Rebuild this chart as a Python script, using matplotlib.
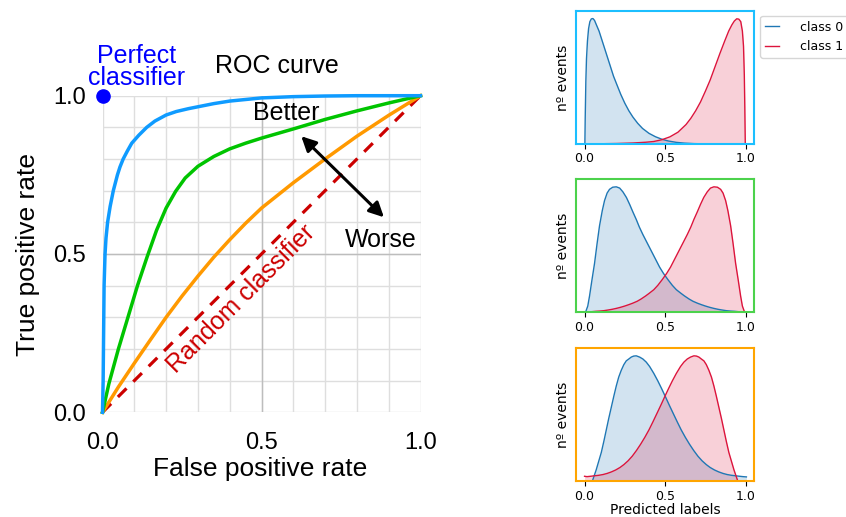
import numpy as np
import matplotlib.pyplot as plt
from matplotlib.lines import Line2D

# ROC curves (false positive rate, true positive rate)
blue_fpr = [0, 0.002, 0.003, 0.004, 0.005, 0.008, 0.011, 0.016, 0.024, 0.034, 0.047, 0.055, 0.065,
            0.078, 0.092, 0.114, 0.139, 0.165, 0.2, 0.232, 0.27, 0.3, 0.35, 0.4, 0.5, 0.6, 0.7, 0.8, 0.9, 1.0]
blue_tpr = [0, 0.1, 0.2, 0.3, 0.4, 0.5, 0.55, 0.6, 0.65, 0.7, 0.75, 0.775, 0.8,
            0.825, 0.85, 0.875, 0.9, 0.92, 0.939, 0.95, 0.959, 0.965, 0.975, 0.983, 0.993, 0.997, 0.999, 1.0, 1.0, 1.0]

green_fpr = [0, 0.02, 0.05, 0.08, 0.11, 0.14, 0.17, 0.2, 0.23, 0.26, 0.3, 0.35, 0.4, 0.45, 0.5, 0.6, 0.7, 0.8, 0.9, 1.0]
green_tpr = [0, 0.09, 0.2, 0.3, 0.4, 0.49, 0.575, 0.645, 0.698, 0.74, 0.777, 0.808, 0.832, 0.85, 0.866, 0.895, 0.925, 0.952, 0.977, 1.0]

orange_fpr = [0, 0.05, 0.1, 0.15, 0.2, 0.25, 0.3, 0.35, 0.4, 0.45, 0.5, 0.6, 0.7, 0.8, 0.9, 1.0]
orange_tpr = [0, 0.08, 0.155, 0.228, 0.3, 0.367, 0.43, 0.49, 0.545, 0.597, 0.645, 0.725, 0.8, 0.872, 0.938, 1.0]

random_fpr = [0, 1]
random_tpr = [0, 1]

ticks = [0.0, 0.5, 1.0]
tick_labels = ["0.0", "0.5", "1.0"]

# predicted label distributions, one pair per classifier
p1_x0 = [0.002, 0.004, 0.008, 0.012, 0.018, 0.025, 0.033, 0.042, 0.052, 0.062, 0.075, 0.09, 0.105, 0.12,
         0.14, 0.16, 0.18, 0.2, 0.225, 0.25, 0.275, 0.3, 0.33, 0.36, 0.4, 0.44, 0.48, 0.52, 0.57, 0.62,
         0.68, 0.75, 0.85, 1.0]
p1_y0 = [0, 0.2, 0.5, 0.68, 0.82, 0.92, 0.975, 0.997, 1.0, 0.985, 0.945, 0.9, 0.84, 0.78,
         0.70, 0.62, 0.54, 0.475, 0.395, 0.325, 0.265, 0.215, 0.165, 0.124, 0.085, 0.058, 0.038, 0.024, 0.013, 0.007,
         0.003, 0.001, 0, 0]
p1_x1 = [0, 0.2, 0.3, 0.38, 0.43, 0.48, 0.53, 0.58, 0.63, 0.66, 0.69, 0.72, 0.75, 0.78, 0.81, 0.84,
         0.87, 0.895, 0.915, 0.93, 0.945, 0.958, 0.97, 0.98, 0.987, 0.992, 0.995, 0.998]
p1_y1 = [0, 0.004, 0.008, 0.014, 0.02, 0.034, 0.057, 0.094, 0.155, 0.205, 0.265, 0.335, 0.42, 0.51, 0.615, 0.72,
         0.82, 0.9, 0.95, 0.98, 0.998, 0.995, 0.975, 0.9, 0.78, 0.55, 0.3, 0]

p2_x0 = [0.006, 0.02, 0.031, 0.045, 0.062, 0.078, 0.093, 0.11, 0.124, 0.14, 0.155, 0.175, 0.197, 0.218,
         0.238, 0.26, 0.28, 0.30, 0.321, 0.34, 0.362, 0.39, 0.414, 0.44, 0.466, 0.49, 0.518, 0.545, 0.57,
         0.6, 0.621, 0.65, 0.673, 0.7, 0.725, 0.75, 0.776, 0.8, 0.828, 0.855, 0.88, 0.905, 0.93, 0.955,
         0.983, 1.0]
p2_y0 = [0, 0.05, 0.13, 0.25, 0.39, 0.55, 0.69, 0.81, 0.89, 0.95, 0.98, 0.997, 1.0, 0.99,
         0.96, 0.915, 0.86, 0.80, 0.74, 0.68, 0.62, 0.55, 0.49, 0.425, 0.36, 0.31, 0.26, 0.215, 0.18,
         0.15, 0.13, 0.105, 0.088, 0.073, 0.061, 0.05, 0.04, 0.032, 0.024, 0.018, 0.013, 0.01, 0.008, 0.005,
         0.003, 0]
p2_x1 = [0, 0.017, 0.045, 0.07, 0.095, 0.12, 0.145, 0.172, 0.2, 0.224, 0.25, 0.275, 0.3, 0.327,
         0.35, 0.379, 0.4, 0.43, 0.455, 0.482, 0.51, 0.534, 0.56, 0.586, 0.61, 0.638, 0.66, 0.679, 0.7,
         0.72, 0.74, 0.762, 0.782, 0.803, 0.825, 0.845, 0.86, 0.876, 0.89, 0.907, 0.922, 0.938, 0.955, 0.969,
         0.98, 0.994]
p2_y1 = [0.004, 0.004, 0.005, 0.008, 0.01, 0.013, 0.018, 0.024, 0.032, 0.04, 0.05, 0.061, 0.073, 0.088,
         0.105, 0.13, 0.15, 0.18, 0.215, 0.26, 0.31, 0.36, 0.425, 0.49, 0.55, 0.62, 0.68, 0.74, 0.80,
         0.86, 0.915, 0.96, 0.99, 1.0, 0.997, 0.98, 0.95, 0.89, 0.81, 0.69, 0.55, 0.39, 0.25, 0.13,
         0.05, 0]

p3_x0 = [0.048, 0.06, 0.072, 0.088, 0.104, 0.12, 0.135, 0.15, 0.166, 0.182, 0.197, 0.212, 0.228, 0.244,
         0.259, 0.275, 0.29, 0.305, 0.321, 0.342, 0.362, 0.383, 0.404, 0.43, 0.455, 0.478, 0.5, 0.525,
         0.549, 0.575, 0.6, 0.626, 0.652, 0.678, 0.704, 0.73, 0.756, 0.78, 0.807, 0.833, 0.859, 0.885,
         0.911, 0.937, 0.963, 0.985, 1.005]
p3_y0 = [0, 0.045, 0.09, 0.16, 0.23, 0.32, 0.41, 0.5, 0.59, 0.68, 0.76, 0.83, 0.885, 0.93,
         0.96, 0.975, 0.99, 0.998, 1.0, 0.99, 0.975, 0.95, 0.915, 0.86, 0.8, 0.74, 0.68, 0.61,
         0.545, 0.475, 0.41, 0.35, 0.295, 0.245, 0.2, 0.163, 0.133, 0.11, 0.09, 0.075, 0.063, 0.054,
         0.048, 0.044, 0.04, 0.037, 0.035]
p3_x1 = [0.0, 0.015, 0.037, 0.063, 0.089, 0.115, 0.141, 0.167, 0.193, 0.22, 0.244, 0.27, 0.296, 0.322,
         0.348, 0.374, 0.4, 0.425, 0.451, 0.475, 0.5, 0.522, 0.545, 0.57, 0.596, 0.617, 0.638, 0.658,
         0.679, 0.695, 0.71, 0.725, 0.741, 0.756, 0.772, 0.788, 0.803, 0.818, 0.834, 0.85, 0.865, 0.88,
         0.896, 0.912, 0.928, 0.94, 0.952]
p3_y1 = [0.04, 0.037, 0.04, 0.044, 0.048, 0.054, 0.063, 0.075, 0.09, 0.11, 0.133, 0.163, 0.2, 0.245,
         0.295, 0.35, 0.41, 0.475, 0.545, 0.61, 0.68, 0.74, 0.8, 0.86, 0.915, 0.95, 0.975, 0.99,
         1.0, 0.998, 0.99, 0.975, 0.96, 0.93, 0.885, 0.83, 0.76, 0.68, 0.59, 0.5, 0.41, 0.32,
         0.23, 0.16, 0.09, 0.045, 0]

panels = [(p1_x0, p1_y0, p1_x1, p1_y1, "#1cbfff"),
          (p2_x0, p2_y0, p2_x1, p2_y1, "#4cd24c"),
          (p3_x0, p3_y0, p3_x1, p3_y1, "#ffa500")]

c0 = "#1f77b4"
c1 = "#dc143c"

fig = plt.figure(figsize=(8.46, 5.17), dpi=100)

# ---- ROC plot ----
sans = ["Liberation Sans", "DejaVu Sans"]
ax = fig.add_axes([102.5/846, 1-412.3/517, 318/846, 316.6/517])
ax.set_xlim(0, 1)
ax.set_ylim(0, 1)
for s in ax.spines.values():
    s.set_visible(False)
ax.set_xticks(ticks)
ax.set_yticks(ticks)
ax.set_xticklabels(tick_labels, fontfamily=sans, fontsize=17)
ax.set_yticklabels(tick_labels, fontfamily=sans, fontsize=17)
ax.set_xticks(np.arange(0, 1.01, 0.1), minor=True)
ax.set_yticks(np.arange(0, 1.01, 0.1), minor=True)
ax.xaxis.remove_overlapping_locs = False
ax.yaxis.remove_overlapping_locs = False
ax.tick_params(which="both", length=0)
ax.tick_params(axis="x", pad=14)
ax.tick_params(axis="y", pad=12)
ax.grid(which="minor", color="#dedede", lw=1.0)
ax.axvline(0.5, color="#bdbdbd", lw=1.0, zorder=0.6)
ax.axhline(0.5, color="#bdbdbd", lw=1.0, zorder=0.6)
ax.set_axisbelow(True)

ax.plot(random_fpr, random_tpr, color="#cc0000", lw=2.3, linestyle=(0, (3.8, 3.0)), clip_on=False)
ax.plot(orange_fpr, orange_tpr, color="#ff9900", lw=2.5, clip_on=False)
ax.plot(green_fpr, green_tpr, color="#00c400", lw=2.5, clip_on=False)
ax.plot(blue_fpr, blue_tpr, color="#0f9bff", lw=2.5, clip_on=False)
ax.plot([0], [1], "o", color="#0000ff", markersize=9.5, clip_on=False, zorder=5)

ax.text(0.108, 1.104, "Perfect", color="#0000ff", fontfamily=sans, fontsize=18, ha="center", va="baseline")
ax.text(0.108, 1.034, "classifier", color="#0000ff", fontfamily=sans, fontsize=18, ha="center", va="baseline")
ax.text(0.549, 1.073, "ROC curve", fontfamily=sans, fontsize=18, ha="center", va="baseline")
ax.text(0.579, 0.923, "Better", fontfamily=sans, fontsize=18, ha="center", va="baseline")
ax.text(0.876, 0.523, "Worse", fontfamily=sans, fontsize=18, ha="center", va="baseline")
ax.text(0.435, 0.357, "Random classifier", color="#cc0000", fontfamily=sans, fontsize=18,
        rotation=45, rotation_mode="anchor", ha="center", va="center")
ax.annotate("", xy=(0.625, 0.872), xytext=(0.885, 0.616),
            arrowprops=dict(arrowstyle="<|-|>", color="black", lw=2.2, mutation_scale=22,
                            shrinkA=0, shrinkB=0))

fig.text(28/846, 1-255/517, "True positive rate", fontfamily=sans, fontsize=19,
         rotation=90, ha="center", va="center")
fig.text(260/846, 1-469/517, "False positive rate", fontfamily=sans, fontsize=19,
         ha="center", va="center")

# ---- distributions ----
tops = [11, 179.3, 348.3]
for i, (x0, y0, x1, y1, edge) in enumerate(panels):
    top = tops[i]
    pa = fig.add_axes([575.7/846, 1-(top+133)/517, 178.6/846, 133/517])
    pa.plot(x0, y0, color=c0, lw=1.0)
    pa.fill_between(x0, y0, color=c0, alpha=0.2, lw=0)
    pa.plot(x1, y1, color=c1, lw=1.0)
    pa.fill_between(x1, y1, color=c1, alpha=0.2, lw=0)
    pa.set_xlim(-0.055, 1.054)
    pa.set_ylim(0, 1.06)
    pa.set_yticks([])
    pa.set_xticks(ticks)
    pa.set_xticklabels(tick_labels)
    pa.tick_params(labelsize=9, pad=2.5)
    pa.set_ylabel("nº events", fontsize=10)
    for s in pa.spines.values():
        s.set_color(edge)
        s.set_linewidth(1.5)
    if i == 2:
        pa.set_xlabel("Predicted labels", fontsize=10, labelpad=0)

handles = [Line2D([], [], color=c0, lw=1.0), Line2D([], [], color=c1, lw=1.0)]
fig.legend(handles, ["class 0", "class 1"], loc="upper left", fontsize=9,
           bbox_to_anchor=(760/846, 1-15.7/517), borderaxespad=0,
           handlelength=1.1, handletextpad=1.7)

fig.savefig("out.png", dpi=100)
